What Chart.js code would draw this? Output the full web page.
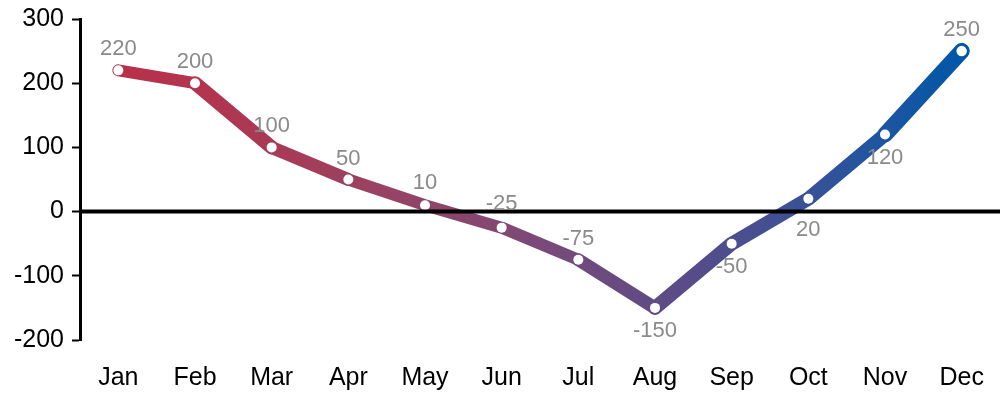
<!DOCTYPE html>
<html lang="en">
<head>
  <meta charset="UTF-8" />
  <title>Monthly values</title>
  <style>
    html, body { margin: 0; padding: 0; background: #fff; overflow: hidden; }
    canvas { display: block; }
  </style>
</head>
<body>
  <canvas id="grafico" width="1002" height="396"></canvas>

  <script src="https://cdn.jsdelivr.net/npm/chart.js"></script>
  <script>
    // data
    const meses = ['Jan', 'Feb', 'Mar', 'Apr', 'May', 'Jun', 'Jul', 'Aug', 'Sep', 'Oct', 'Nov', 'Dec'];
    const valores = [220, 200, 100, 50, 10, -25, -75, -150, -50, 20, 120, 250];
    const ticksY = [-200, -100, 0, 100, 200, 300];

    // style bits: line width per segment, label shift per point
    const larguras = [12, 14, 13, 12, 12, 12, 13, 14, 14, 14, 16];
    const deslocLabel = [-21, -21, -21, -21, -22, -24, -21, 23, 23, 31, 23, -21];
    const fonte = '"Liberation Sans", Arial, sans-serif';

    function gradiente(chart) {
      const area = chart.chartArea;
      if (!area) return '#7a4a78';
      const g = chart.ctx.createLinearGradient(area.left + 38, 0, area.right - 38, 0);
      g.addColorStop(0, '#b8304a');
      g.addColorStop(0.1, '#b3344e');
      g.addColorStop(0.3, '#9a4262');
      g.addColorStop(0.5, '#7a4a78');
      g.addColorStop(0.65, '#5d4b86');
      g.addColorStop(0.8, '#3e5096');
      g.addColorStop(0.9, '#1f55a0');
      g.addColorStop(1, '#0057a8');
      return g;
    }

    // linha do zero + rotulos
    const extras = {
      id: 'extras',
      afterDatasetsDraw(chart) {
        const ctx = chart.ctx;
        const area = chart.chartArea;
        const y0 = chart.scales.y.getPixelForValue(0);
        ctx.save();
        ctx.strokeStyle = '#000';
        ctx.lineWidth = 4;
        ctx.beginPath();
        ctx.moveTo(area.left, y0);
        ctx.lineTo(area.right, y0);
        ctx.stroke();

        ctx.font = '22px ' + fonte;
        ctx.fillStyle = '#8a8a8a';
        ctx.textAlign = 'center';
        ctx.textBaseline = 'middle';
        chart.getDatasetMeta(0).data.forEach((p, i) => {
          ctx.fillText(String(valores[i]), p.x, p.y + deslocLabel[i]);
        });
        ctx.restore();
      }
    };

    new Chart(document.getElementById('grafico'), {
      type: 'line',
      data: {
        labels: meses,
        datasets: [{
          data: valores,
          borderColor: c => gradiente(c.chart),
          borderWidth: 13,
          borderCapStyle: 'round',
          borderJoinStyle: 'round',
          tension: 0,
          clip: false,
          segment: {
            borderWidth: c => larguras[c.p0DataIndex]
          },
          pointRadius: valores.map((v, i) => i === valores.length - 1 ? 6.5 : 5),
          pointBorderWidth: valores.map((v, i) => i === valores.length - 1 ? 2.5 : 0),
          pointBorderColor: '#0057a8',
          pointBackgroundColor: '#fff',
          pointHoverRadius: 5
        }]
      },
      options: {
        responsive: false,
        animation: false,
        layout: { autoPadding: false, padding: { top: 19, right: 2, bottom: 3, left: 0 } },
        plugins: {
          legend: { display: false },
          tooltip: { enabled: false }
        },
        scales: {
          x: {
            offset: true,
            afterFit: s => { s.height = 53; s.paddingLeft = 0; s.paddingRight = 0; },
            border: { display: false },
            grid: { display: false, drawTicks: false },
            ticks: { color: '#000', padding: 23, maxRotation: 0, font: { family: fonte, size: 25 } }
          },
          y: {
            min: -200,
            max: 300,
            afterFit: s => { s.width = 80; s.paddingTop = 0; s.paddingBottom = 0; },
            afterBuildTicks: s => { s.ticks = ticksY.map(v => ({ value: v })); },
            border: { display: true, color: '#000', width: 3 },
            grid: { drawOnChartArea: false, tickLength: 8, tickColor: '#000', tickWidth: 2 },
            ticks: { color: '#000', padding: 8, font: { family: fonte, size: 25 } }
          }
        }
      },
      plugins: [extras]
    });
  </script>
</body>
</html>
